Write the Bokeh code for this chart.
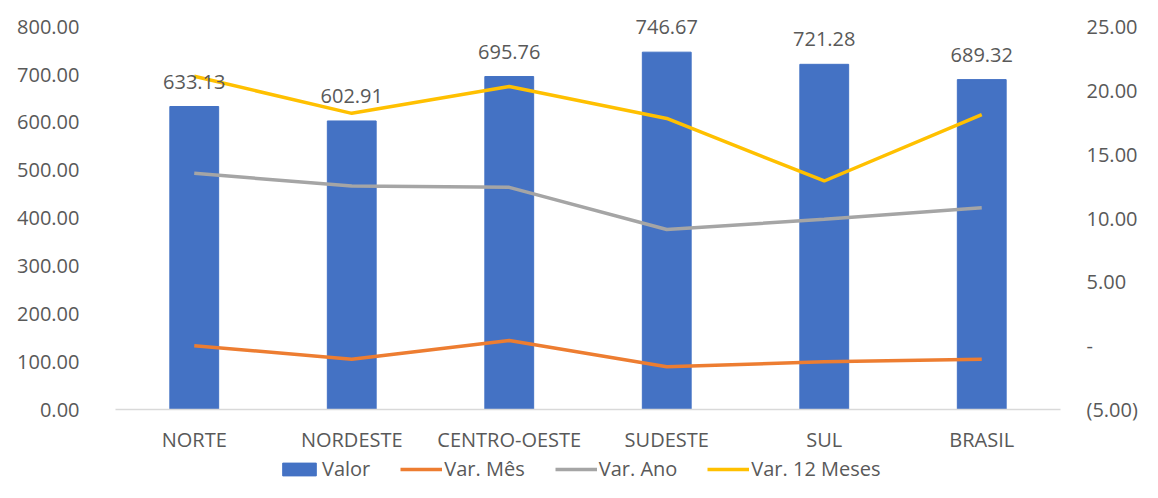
from bokeh.plotting import figure
from bokeh.models import (ColumnDataSource, Range1d, FactorRange, LinearAxis, FixedTicker,
                          NumeralTickFormatter, Legend, LegendItem, LabelSet)
from bokeh.layouts import column
from bokeh.core.properties import value
from bokeh.embed import file_html
from bokeh.resources import INLINE

categories = ["NORTE", "NORDESTE", "CENTRO-OESTE", "SUDESTE", "SUL", "BRASIL"]
valor = [633.13, 602.91, 695.76, 746.67, 721.28, 689.32]
var_mes = [0.0, -1.07, 0.4, -1.65, -1.26, -1.07]
var_ano = [13.5, 12.5, 12.4, 9.1, 9.9, 10.8]
var_12m = [21.1, 18.2, 20.3, 17.8, 12.9, 18.1]
left_ticks = [0, 100, 200, 300, 400, 500, 600, 700, 800]
right_ticks = [-5, 0, 5, 10, 15, 20, 25]
right_tick_labels = ["(5.00)", "-", "5.00", "10.00", "15.00", "20.00", "25.00"]
series_names = ["Valor", "Var. Mês", "Var. Ano", "Var. 12 Meses"]

FONT = "Open Sans"
TXT = "#595959"
C_BAR, C_MES, C_ANO, C_12 = "#4472C4", "#ED7D31", "#A5A5A5", "#FFC000"

src = ColumnDataSource(dict(cat=categories, valor=valor, mes=var_mes, ano=var_ano, m12=var_12m,
                            lbl=["%.2f" % v for v in valor]))

# ranges extended slightly above the top tick so value labels are not clipped
p = figure(x_range=FactorRange(factors=categories, range_padding=0), y_range=Range1d(0, 840),
           width=1142, height=455,
           min_border_left=115, min_border_top=7, min_border_right=82, min_border_bottom=46,
           output_backend="svg", toolbar_location=None, outline_line_color=None)
p.extra_y_ranges = {"pct": Range1d(-5, 26.49)}

p.xgrid.visible = False
p.ygrid.visible = False

p.vbar(x="cat", top="valor", width=0.31, source=src, color=C_BAR)
p.line(x="cat", y="mes", source=src, y_range_name="pct", line_color=C_MES, line_width=3.5)
p.line(x="cat", y="ano", source=src, y_range_name="pct", line_color=C_ANO, line_width=3.5)
p.line(x="cat", y="m12", source=src, y_range_name="pct", line_color=C_12, line_width=3.5)

labels = LabelSet(x="cat", y="valor", text="lbl", source=src, text_align="center",
                  text_baseline="alphabetic", y_offset=18, text_font=value(FONT),
                  text_font_size=value("20px"), text_color=value(TXT))
p.add_layout(labels)

# left axis
la = p.yaxis[0]
la.ticker = FixedTicker(ticks=left_ticks)
la.formatter = NumeralTickFormatter(format="0.00")
la.axis_line_color = None
la.major_tick_line_color = None
la.minor_tick_line_color = None
la.major_tick_out = 0
la.minor_tick_out = 0
la.major_label_standoff = 36
la.major_label_text_font = FONT
la.major_label_text_font_size = "20px"
la.major_label_text_color = TXT

# right axis
ra = LinearAxis(y_range_name="pct", ticker=FixedTicker(ticks=right_ticks))
ra.major_label_overrides = {t: s for t, s in zip(right_ticks, right_tick_labels)}
ra.axis_line_color = None
ra.major_tick_line_color = None
ra.minor_tick_line_color = None
ra.major_tick_out = 0
ra.minor_tick_out = 0
ra.major_label_standoff = 26
ra.major_label_text_font = FONT
ra.major_label_text_font_size = "20px"
ra.major_label_text_color = TXT
p.add_layout(ra, "right")

xa = p.xaxis[0]
xa.axis_line_color = "#D9D9D9"
xa.axis_line_width = 1.5
xa.major_tick_line_color = None
xa.minor_tick_line_color = None
xa.major_tick_out = 0
xa.minor_tick_out = 0
xa.major_label_standoff = 16
xa.major_label_text_font = FONT
xa.major_label_text_font_size = "20px"
xa.major_label_text_color = TXT

# legend strip below the chart: same series drawn outside its visible range,
# so only the legend shows
lf = figure(width=1142, height=27, x_range=FactorRange(factors=categories),
            y_range=Range1d(100000, 100001),
            min_border=0, output_backend="svg", toolbar_location=None,
            outline_line_color=None)
lf.extra_y_ranges = {"pct": Range1d(100000, 100001)}
lf.axis.visible = False
lf.grid.visible = False
r_bar = lf.vbar(x="cat", top="valor", width=0.31, source=src, color=C_BAR)
r_mes = lf.line(x="cat", y="mes", source=src, y_range_name="pct", line_color=C_MES, line_width=3.5)
r_ano = lf.line(x="cat", y="ano", source=src, y_range_name="pct", line_color=C_ANO, line_width=3.5)
r_12 = lf.line(x="cat", y="m12", source=src, y_range_name="pct", line_color=C_12, line_width=3.5)
legend = Legend(items=[LegendItem(label=n, renderers=[r]) for n, r in
                       zip(series_names, [r_bar, r_mes, r_ano, r_12])],
                orientation="horizontal", location=(163, 0), border_line_color=None,
                background_fill_alpha=0, label_text_font=FONT, label_text_font_size="20px",
                label_text_color=TXT, glyph_width=42, glyph_height=16, label_standoff=2,
                spacing=30, padding=0, margin=0, label_height=20)
lf.add_layout(legend, "center")

open("out.html", "w").write(file_html(column(p, lf), INLINE))
